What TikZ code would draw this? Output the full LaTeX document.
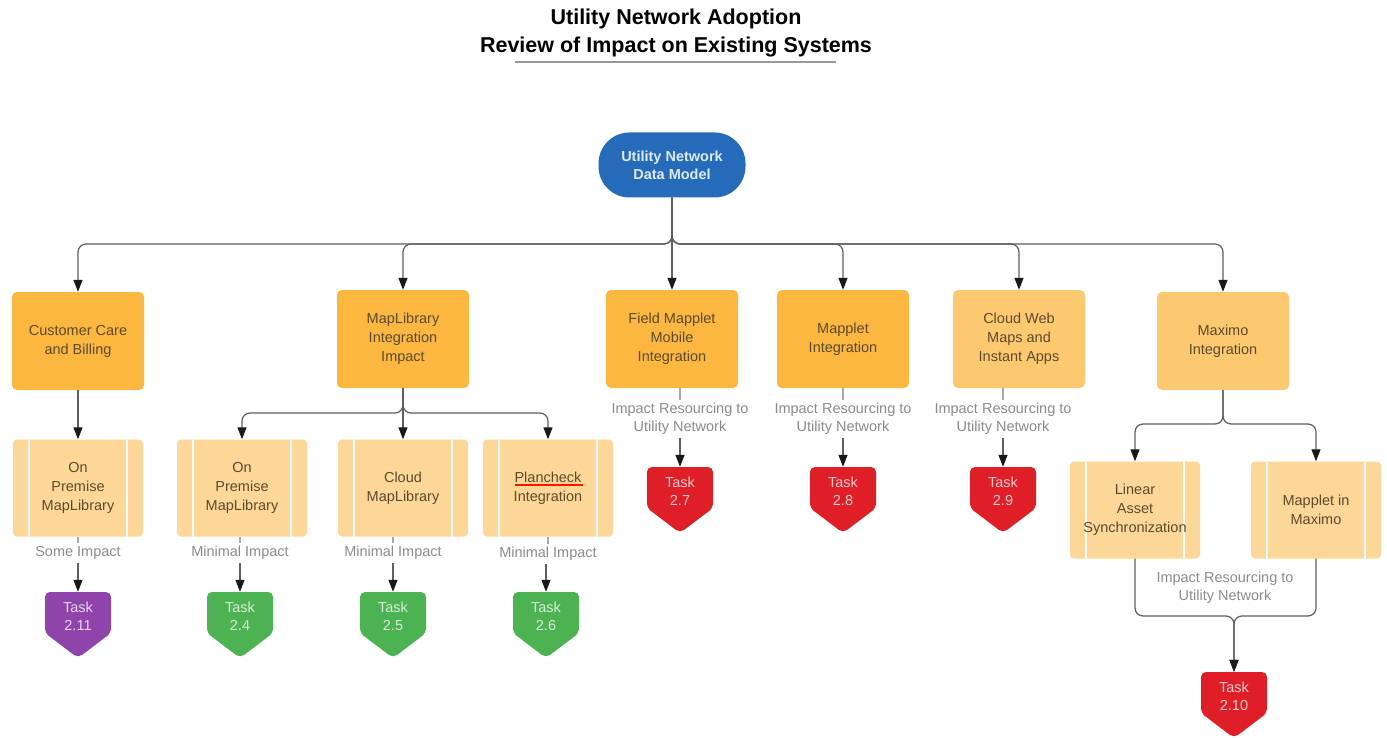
\documentclass[tikz,border=0pt]{standalone}
\usepackage{fontspec}
\setmainfont{Liberation Sans}
\usetikzlibrary{arrows.meta}

\definecolor{unblue}{RGB}{38,106,186}
\definecolor{hubtext}{RGB}{222,234,250}
\definecolor{sysdark}{RGB}{252,183,64}
\definecolor{syspale}{RGB}{253,201,112}
\definecolor{subfill}{RGB}{253,215,152}
\definecolor{boxtext}{RGB}{92,74,46}
\definecolor{impactgray}{RGB}{140,140,140}
\definecolor{linkgray}{RGB}{95,95,95}
\definecolor{paleline}{RGB}{170,170,170}
\definecolor{taskpurple}{RGB}{142,68,170}
\definecolor{taskgreen}{RGB}{76,178,82}
\definecolor{taskred}{RGB}{224,30,40}

\begin{document}
\begin{tikzpicture}[
		x=1pt,y=-1pt,
		font=\fontsize{14.5}{19}\selectfont,
		every node/.style={align=center},
		hub/.style={fill=unblue,text=hubtext,rounded corners=31pt,minimum width=147pt,minimum height=65pt,font=\fontsize{14.5}{18}\selectfont\bfseries},
		sys/.style={fill=sysdark,text=boxtext,rounded corners=5pt,minimum width=132pt,minimum height=98pt},
		syslite/.style={sys,fill=syspale},
		sub/.style={fill=subfill,text=boxtext,rounded corners=4pt,minimum width=130pt,minimum height=97pt,
			path picture={
				\draw[white,line width=1.6pt] ([xshift=16pt]path picture bounding box.north west) -- ([xshift=16pt]path picture bounding box.south west);
				\draw[white,line width=1.6pt] ([xshift=-16pt]path picture bounding box.north east) -- ([xshift=-16pt]path picture bounding box.south east);
			}},
		impact/.style={text=impactgray,inner sep=3pt,font=\fontsize{14.5}{18}\selectfont},
		tasktext/.style={minimum width=66pt,minimum height=48pt,inner sep=0pt,font=\fontsize{14.5}{18}\selectfont},
		link/.style={draw=linkgray,line width=1.2pt,rounded corners=8pt,-{Triangle[length=12pt,width=9pt,color=black!90]}},
		thinlink/.style={draw=paleline,line width=1.1pt}
		]
		\path[use as bounding box,fill=white] (0,0) rectangle (1387,738);
		
		\node[font=\fontsize{21.5}{28}\selectfont\bfseries] (title) at (676,33) {Utility Network Adoption\\Review of Impact on Existing Systems};
		\draw[draw=gray!80,line width=1.3pt] (515,62) -- (836,62);
		
		\node[hub] (root) at (672,165) {Utility Network\\Data Model};
		
		\node[sys] (ccb) at (78,341) {Customer Care\\and Billing};
		\node[sys] (mli) at (403,339) {MapLibrary\\Integration\\Impact};
		\node[sys] (fmm) at (672,339) {Field Mapplet\\Mobile\\Integration};
		\node[sys] (mpi) at (843,339) {Mapplet\\Integration};
		\node[syslite] (cwm) at (1019,339) {Cloud Web\\Maps and\\Instant Apps};
		\node[syslite] (mxi) at (1223,341) {Maximo\\Integration};
		
		\node[sub] (opm1) at (78,488) {On\\Premise\\MapLibrary};
		\node[sub] (opm2) at (242,488) {On\\Premise\\MapLibrary};
		\node[sub] (cml) at (403,488) {Cloud\\MapLibrary};
		\node[sub] (pci) at (548,488) {Plancheck\\Integration};
		\node[sub] (las) at (1135,510) {Linear\\Asset\\Synchronization};
		\node[sub] (mim) at (1316,510) {Mapplet in\\Maximo};
		\draw[draw=red!85!orange,line width=1.2pt] ([xshift=-33pt,yshift=3pt]pci.center) -- ([xshift=35pt,yshift=3pt]pci.center);
		
		\foreach \tname/\tx/\ty/\tcol/\tnum in {t211/78/592/taskpurple/2.11,t24/240/592/taskgreen/2.4,t25/393/592/taskgreen/2.5,t26/546/592/taskgreen/2.6,t27/680/467/taskred/2.7,t28/843/467/taskred/2.8,t29/1003/467/taskred/2.9,t210/1234/672/taskred/2.10}
		{
			\fill[\tcol,rounded corners=5pt] (\tx-33,\ty) -- (\tx+33,\ty) -- (\tx+33,\ty+41) -- (\tx,\ty+66) -- (\tx-33,\ty+41) -- cycle;
			\node[tasktext,text=\tcol!22!white] (\tname) at (\tx,\ty+24) {Task\\\tnum};
		}
		
		\node[impact] (si) at (78,553) {Some Impact};
		\node[impact] (mi1) at (240,553) {Minimal Impact};
		\node[impact] (mi2) at (393,553) {Minimal Impact};
		\node[impact] (mi3) at (548,554) {Minimal Impact};
		\node[impact] (irf) at (680,419) {Impact Resourcing to\\Utility Network};
		\node[impact] (irm) at (843,419) {Impact Resourcing to\\Utility Network};
		\node[impact] (irc) at (1003,419) {Impact Resourcing to\\Utility Network};
		\node[impact] (irx) at (1225,588) {Impact Resourcing to\\Utility Network};
		
		\coordinate (bus) at (672,244);
		\coordinate (mlbus) at (403,413);
		\coordinate (mxbus) at (1223,424);
		\coordinate (mxjoin) at (1234,616);
		
		\draw[link] (root.south) -- (bus) -| (ccb.north);
		\draw[link] (root.south) -- (bus) -| (mli.north);
		\draw[link] (root.south) -- (fmm.north);
		\draw[link] (root.south) -- (bus) -| (mpi.north);
		\draw[link] (root.south) -- (bus) -| (cwm.north);
		\draw[link] (root.south) -- (bus) -| (mxi.north);
		
		\draw[link] (ccb.south) -- (opm1.north);
		\draw[link] (mli.south) -- (mlbus) -| (opm2.north);
		\draw[link] (mli.south) -- (cml.north);
		\draw[link] (mli.south) -- (mlbus) -| (pci.north);
		\draw[link] (mxi.south) -- (mxbus) -| (las.north);
		\draw[link] (mxi.south) -- (mxbus) -| (mim.north);
		
		\draw[thinlink] (opm1.south) -- (si.north);
		\draw[link] (si.south) -- (t211.north);
		\draw[thinlink] (opm2.south -| mi1.north) -- (mi1.north);
		\draw[link] (mi1.south) -- (t24.north);
		\draw[thinlink] (cml.south -| mi2.north) -- (mi2.north);
		\draw[link] (mi2.south) -- (t25.north);
		\draw[thinlink] (pci.south -| mi3.north) -- (mi3.north);
		\draw[link] (mi3.south -| t26.north) -- (t26.north);
		\draw[thinlink] (fmm.south -| irf.north) -- (irf.north);
		\draw[link] (irf.south) -- (t27.north);
		\draw[thinlink] (mpi.south) -- (irm.north);
		\draw[link] (irm.south) -- (t28.north);
		\draw[thinlink] (cwm.south -| irc.north) -- (irc.north);
		\draw[link] (irc.south) -- (t29.north);
		
		\draw[link] (las.south) |- (mxjoin) -- (t210.north);
		\draw[link] (mim.south) |- (mxjoin) -- (t210.north);
\end{tikzpicture}
\end{document}
